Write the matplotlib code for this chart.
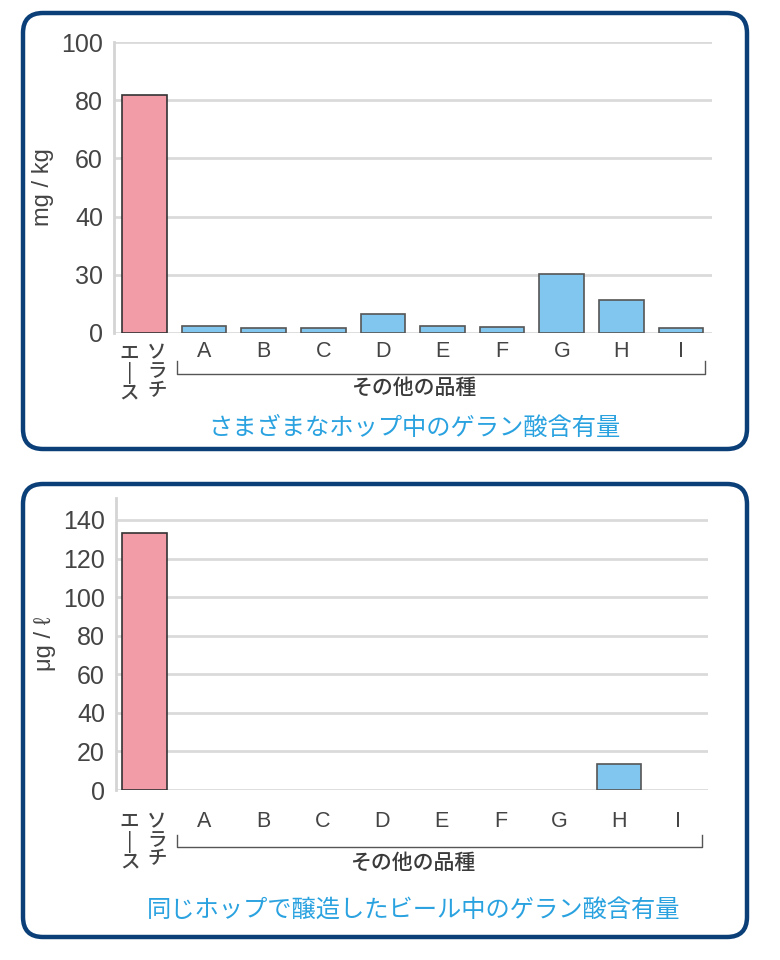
import matplotlib.pyplot as plt
from matplotlib.patches import FancyBboxPatch

plt.rcParams['font.family'] = ['Noto Sans CJK JP', 'DejaVu Sans']
latin = ['Liberation Sans', 'Noto Sans CJK JP', 'DejaVu Sans']

# データ
categories = ['ソラチエース', 'A', 'B', 'C', 'D', 'E', 'F', 'G', 'H', 'I']
hop_values = [81.8, 2.4, 1.7, 1.7, 6.5, 2.4, 2.0, 20.3, 11.3, 1.8]   # mg/kg
beer_values = [133.5, 0, 0, 0, 0, 0, 0, 0, 13.5, 0]                   # μg/ℓ
hop_ticks = [0, 20, 40, 60, 80, 100]
hop_tick_labels = ['0', '30', '40', '60', '80', '100']
beer_ticks = [0, 20, 40, 60, 80, 100, 120, 140]

titulo_top = 'さまざまなホップ中のゲラン酸含有量'
titulo_bottom = '同じホップで醸造したビール中のゲラン酸含有量'
grupo = 'その他の品種'

rosa = '#f29ca7'
azul = '#80c6ee'
navy = '#0b3f78'
texto = '#444444'
titulo_cor = '#2aa2e0'

fig = plt.figure(figsize=(7.8, 9.6), dpi=100)

# fundo em pixels (molduras e títulos)
bg = fig.add_axes([0, 0, 1, 1], zorder=-1)
bg.set_xlim(0, 780)
bg.set_ylim(960, 0)
bg.axis('off')
for y0, y1 in [(13, 449), (484, 937)]:
    bg.add_patch(FancyBboxPatch((23, y0), 724, y1 - y0,
                                boxstyle='round,pad=0,rounding_size=20',
                                fc='white', ec=navy, lw=3.2))
bg.text(414, 428, titulo_top, color=titulo_cor, fontsize=17.5, ha='center', va='center')
bg.text(414, 910, titulo_bottom, color=titulo_cor, fontsize=17.5, ha='center', va='center')


def desenhar(ax, valores, ticks, labels, ylim, xlim, lab_pad, vert_y, br_y, br_tick, grp_y, ylabel):
    x = list(range(len(valores)))
    cores = [rosa] + [azul] * (len(valores) - 1)
    bordas = ['#333333'] + ['#555555'] * (len(valores) - 1)
    for xi, v, c, e in zip(x, valores, cores, bordas):
        if v > 0:
            ax.bar(xi, v, width=0.75, color=c, edgecolor=e, linewidth=1.2, zorder=3)
    ax.set_xlim(*xlim)
    ax.set_ylim(*ylim)
    ax.set_facecolor('none')
    ax.set_yticks(ticks)
    ax.set_yticklabels(labels, family=latin)
    ax.yaxis.grid(True, color='#dadada', lw=2, zorder=0)
    ax.set_axisbelow(True)
    for s in ['top', 'right', 'bottom']:
        ax.spines[s].set_visible(False)
    ax.spines['left'].set_color('#d4d4d4')
    ax.spines['left'].set_linewidth(2)
    ax.tick_params(axis='y', length=0, pad=8, labelsize=18, labelcolor=texto)
    ax.set_xticks(x[1:])
    ax.set_xticklabels(categories[1:], family=latin)
    ax.tick_params(axis='x', length=0, pad=lab_pad, labelsize=15.5, labelcolor=texto)
    ax.set_ylabel(ylabel, fontsize=17, color=texto, labelpad=5, family=latin)

    tr = ax.get_xaxis_transform()
    # nome vertical da primeira variedade
    ax.text(-0.25, vert_y, 'エ\n|\nス', transform=tr, ha='center', va='top',
            fontsize=14, color=texto, linespacing=0.97, fontweight='medium', clip_on=False)
    ax.text(0.21, vert_y, 'ソ\nラ\nチ', transform=tr, ha='center', va='top',
            fontsize=14, color=texto, linespacing=0.97, fontweight='medium', clip_on=False)
    # colchete "outras variedades"
    ax.plot([0.55, 0.55, 9.4, 9.4], [br_tick, br_y, br_y, br_tick], transform=tr,
            color='#555555', lw=1, clip_on=False)
    ax.text(4.54, grp_y, grupo, transform=tr, ha='center', va='center',
            fontsize=15, color='#3a3a3a', fontweight='medium', clip_on=False)


ax1 = fig.add_axes([114 / 780, (960 - 333) / 960, 598 / 780, 291 / 960])
desenhar(ax1, hop_values, hop_ticks, hop_tick_labels, (0, 100), (-0.51, 9.52),
         6, -0.036, -0.141, -0.096, -0.189, 'mg / kg')

ax2 = fig.add_axes([116 / 780, (960 - 790) / 960, 592 / 780, 292 / 960])
desenhar(ax2, beer_values, beer_ticks, [str(t) for t in beer_ticks], (0, 151.4), (-0.48, 9.5),
         15, -0.076, -0.195, -0.154, -0.25, 'μg / ℓ')

fig.savefig('out.png', dpi=100)
